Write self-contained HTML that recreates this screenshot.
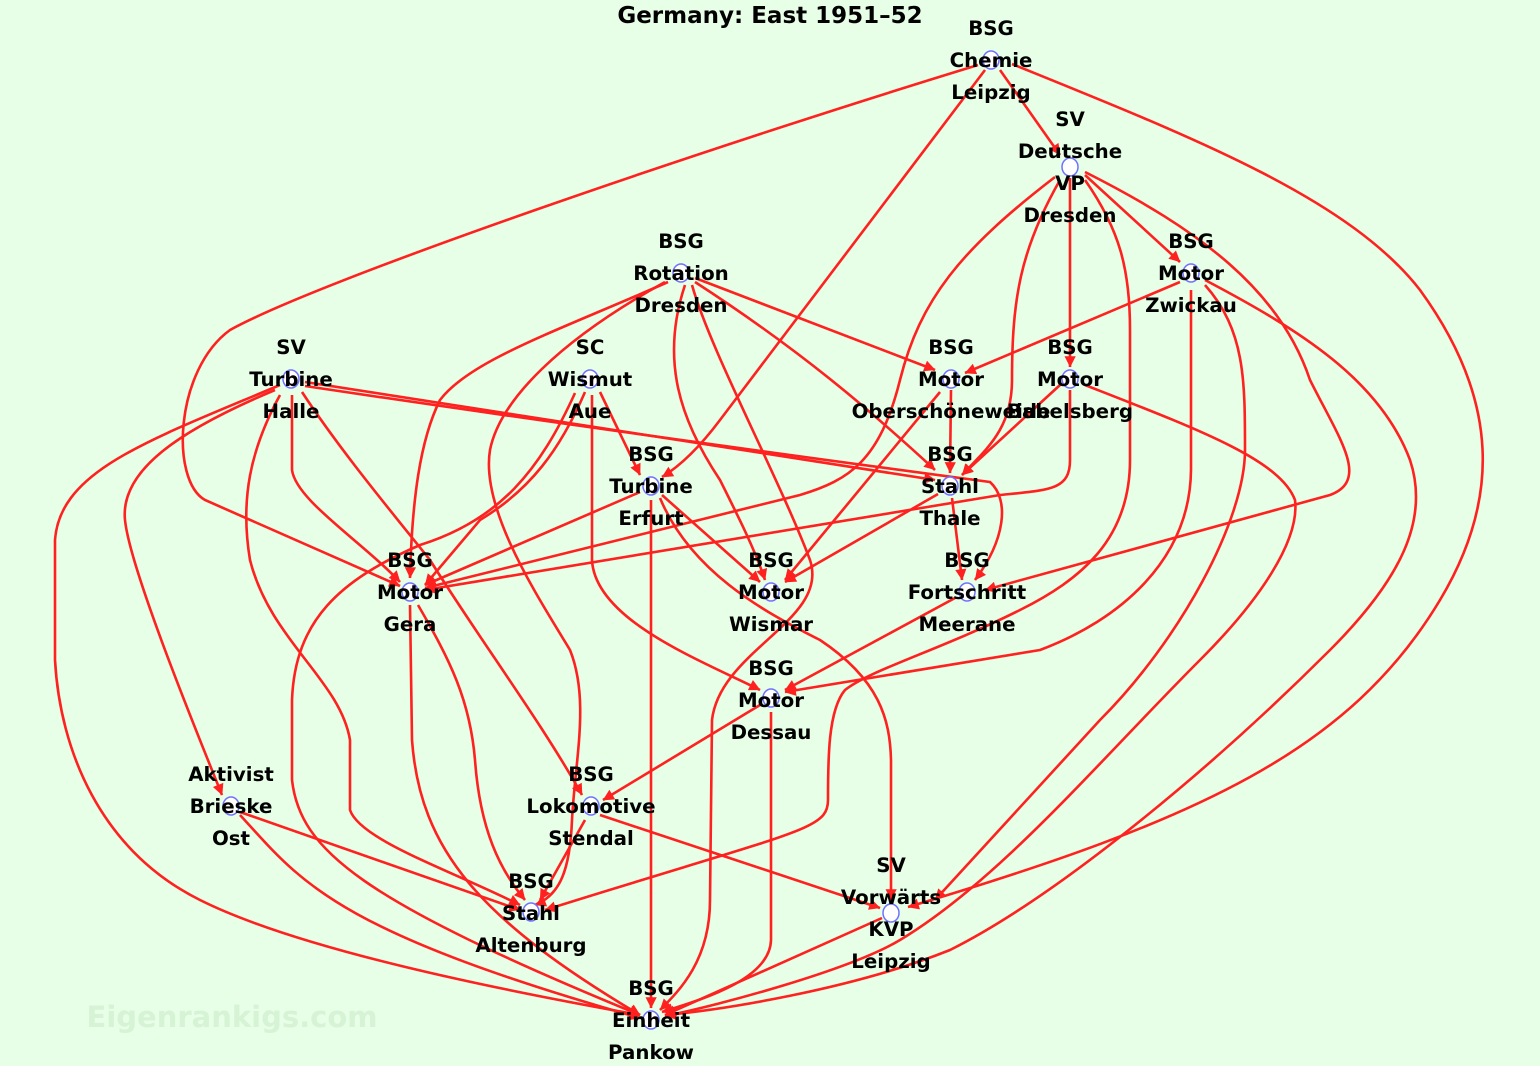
<!DOCTYPE html>
<html><head><meta charset="utf-8"><style>
html,body{margin:0;padding:0;background:#e6ffe6;}
svg{display:block;}
text{font-family:"DejaVu Sans","Liberation Sans",sans-serif;font-weight:bold;fill:#000;}
</style></head><body>
<svg width="1540" height="1066" viewBox="0 0 1540 1066" xmlns="http://www.w3.org/2000/svg">
<defs><marker id="a" viewBox="0 0 10 10" refX="9" refY="5" markerWidth="7" markerHeight="7" orient="auto" markerUnits="userSpaceOnUse" style="overflow:visible"><path d="M0,0 L10,5 L0,10 z" fill="#ff2020" transform="scale(1.6) translate(-4,-2)"/></marker></defs>
<rect width="1540" height="1066" fill="#e6ffe6"/>
<text x="232" y="1027" font-size="29" style="fill:#d6f3d6" text-anchor="middle">Eigenrankigs.com</text>
<g fill="none" stroke="#ff2020" stroke-width="2.6" marker-end="url(#a)">
<path d="M1000,70 L1060,155"/>
<path d="M978,65 C700,150 320,280 230,330 C175,370 170,480 205,500 L400,586"/>
<path d="M985,70 L720,420 Q690,460 662,477"/>
<path d="M1012,64 C1200,140 1350,200 1420,290 C1500,400 1500,500 1440,600 C1350,750 1200,820 908,907"/>
<path d="M1085,175 L1180,262"/>
<path d="M1070,178 L1070,367"/>
<path d="M1055,177 C960,250 920,300 900,380 C880,460 850,480 800,495 L425,588"/>
<path d="M1060,180 C1020,250 1012,300 1012,380 C1012,430 985,450 962,475"/>
<path d="M1085,180 C1120,230 1130,270 1130,330 L1130,460 C1130,540 1080,580 1020,610 C940,650 870,670 845,690 C828,710 828,760 828,800 C828,830 800,830 545,910"/>
<path d="M1085,172 C1200,230 1280,290 1310,380 C1340,440 1370,480 1330,495 L985,590"/>
<path d="M1180,282 L965,373"/>
<path d="M1205,280 C1300,330 1380,380 1410,460 C1430,520 1400,580 1330,650 C1200,780 1050,900 950,950 C850,990 720,1010 665,1015"/>
<path d="M1205,285 C1245,330 1245,380 1245,450 C1245,520 1180,640 1100,720 L935,900"/>
<path d="M1191,290 L1191,470 C1190,560 1120,620 1040,650 L785,692"/>
<path d="M1060,385 L962,475"/>
<path d="M1070,390 L1070,460 C1070,490 1050,490 1000,495 L425,590"/>
<path d="M1085,385 C1200,430 1280,460 1295,500 C1300,540 1260,600 1200,660 C1100,760 1000,880 900,940 C850,970 720,1005 665,1016"/>
<path d="M951,390 L950,473"/>
<path d="M940,392 L785,580"/>
<path d="M695,278 L935,370"/>
<path d="M695,282 C800,350 870,410 935,470"/>
<path d="M685,285 C660,360 680,420 720,480 C740,520 755,550 765,580"/>
<path d="M668,282 C560,330 470,360 440,400 C420,440 412,500 410,578"/>
<path d="M692,285 C710,350 780,480 810,560 C830,620 720,650 712,720 L710,900 C710,960 680,990 660,1010"/>
<path d="M665,282 C560,340 500,400 490,450 C480,510 540,600 570,650 C590,700 575,760 572,820 C570,870 560,895 535,905"/>
<path d="M305,382 L935,480"/>
<path d="M305,386 C600,430 900,470 990,482 C1010,500 1005,540 975,580"/>
<path d="M292,395 L292,470 C296,500 360,540 400,582"/>
<path d="M302,392 C340,450 390,510 430,560 C480,640 540,720 582,795"/>
<path d="M280,395 C250,450 240,500 250,560 C270,640 340,680 350,740 L350,810 C360,840 450,870 520,905"/>
<path d="M280,385 C150,440 60,470 55,540 L55,660 C60,750 100,850 200,900 C300,950 500,990 640,1015"/>
<path d="M275,390 C180,430 120,470 125,520 C130,570 200,740 222,795"/>
<path d="M585,392 C560,450 530,490 480,520 L425,585"/>
<path d="M600,392 L640,475"/>
<path d="M592,395 L592,560 C595,620 700,660 760,690"/>
<path d="M575,393 C540,470 500,520 420,545 C340,580 295,620 292,700 L292,780 C300,850 360,900 640,1015"/>
<path d="M640,492 L425,585"/>
<path d="M662,495 L760,582"/>
<path d="M651,500 L651,1008"/>
<path d="M660,498 C690,570 760,610 820,640 C880,680 890,720 891,760 L891,900"/>
<path d="M952,498 L962,580"/>
<path d="M938,494 L785,582"/>
<path d="M955,598 L785,690"/>
<path d="M418,605 C450,660 470,700 475,760 C480,830 500,870 525,900"/>
<path d="M410,605 L412,740 C420,850 480,920 640,1015"/>
<path d="M760,705 L603,800"/>
<path d="M771,712 L771,940 C770,980 700,1000 662,1012"/>
<path d="M585,820 L540,900"/>
<path d="M600,815 L880,908"/>
<path d="M240,812 L520,910"/>
<path d="M240,815 C300,880 330,930 640,1018"/>
<path d="M882,918 L665,1015"/>
</g>
<g fill="#fff" stroke="#7070ff" stroke-width="1.5">
<ellipse cx="991" cy="60" rx="8" ry="9"/><ellipse cx="1070" cy="167" rx="8" ry="9"/>
<ellipse cx="681" cy="273" rx="8" ry="9"/><ellipse cx="1191" cy="273" rx="8" ry="9"/>
<ellipse cx="291" cy="379" rx="8" ry="9"/><ellipse cx="590" cy="379" rx="8" ry="9"/>
<ellipse cx="951" cy="379" rx="8" ry="9"/><ellipse cx="1070" cy="379" rx="8" ry="9"/>
<ellipse cx="651" cy="486" rx="8" ry="9"/><ellipse cx="950" cy="486" rx="8" ry="9"/>
<ellipse cx="410" cy="592" rx="8" ry="9"/><ellipse cx="771" cy="592" rx="8" ry="9"/>
<ellipse cx="967" cy="592" rx="8" ry="9"/><ellipse cx="771" cy="698" rx="8" ry="9"/>
<ellipse cx="231" cy="806" rx="8" ry="9"/><ellipse cx="591" cy="806" rx="8" ry="9"/>
<ellipse cx="531" cy="912" rx="8" ry="9"/><ellipse cx="891" cy="913" rx="8" ry="9"/>
<ellipse cx="651" cy="1020" rx="8" ry="9"/>
</g>
<g font-size="19.8" text-anchor="middle">
<text x="770" y="23" font-size="23">Germany: East 1951–52</text>
<text x="991" y="35">BSG</text><text x="991" y="67">Chemie</text><text x="991" y="99">Leipzig</text>
<text x="1070" y="126">SV</text><text x="1070" y="158">Deutsche</text><text x="1070" y="190">VP</text><text x="1070" y="222">Dresden</text>
<text x="681" y="248">BSG</text><text x="681" y="280">Rotation</text><text x="681" y="312">Dresden</text>
<text x="1191" y="248">BSG</text><text x="1191" y="280">Motor</text><text x="1191" y="312">Zwickau</text>
<text x="291" y="354">SV</text><text x="291" y="386">Turbine</text><text x="291" y="418">Halle</text>
<text x="590" y="354">SC</text><text x="590" y="386">Wismut</text><text x="590" y="418">Aue</text>
<text x="951" y="354">BSG</text><text x="951" y="386">Motor</text><text x="951" y="418">Oberschöneweide</text>
<text x="1070" y="354">BSG</text><text x="1070" y="386">Motor</text><text x="1070" y="418">Babelsberg</text>
<text x="651" y="461">BSG</text><text x="651" y="493">Turbine</text><text x="651" y="525">Erfurt</text>
<text x="950" y="461">BSG</text><text x="950" y="493">Stahl</text><text x="950" y="525">Thale</text>
<text x="410" y="567">BSG</text><text x="410" y="599">Motor</text><text x="410" y="631">Gera</text>
<text x="771" y="567">BSG</text><text x="771" y="599">Motor</text><text x="771" y="631">Wismar</text>
<text x="967" y="567">BSG</text><text x="967" y="599">Fortschritt</text><text x="967" y="631">Meerane</text>
<text x="771" y="675">BSG</text><text x="771" y="707">Motor</text><text x="771" y="739">Dessau</text>
<text x="231" y="781">Aktivist</text><text x="231" y="813">Brieske</text><text x="231" y="845">Ost</text>
<text x="591" y="781">BSG</text><text x="591" y="813">Lokomotive</text><text x="591" y="845">Stendal</text>
<text x="531" y="888">BSG</text><text x="531" y="920">Stahl</text><text x="531" y="952">Altenburg</text>
<text x="891" y="872">SV</text><text x="891" y="904">Vorwärts</text><text x="891" y="936">KVP</text><text x="891" y="968">Leipzig</text>
<text x="651" y="995">BSG</text><text x="651" y="1027">Einheit</text><text x="651" y="1059">Pankow</text>
</g>
</svg>
</body></html>
